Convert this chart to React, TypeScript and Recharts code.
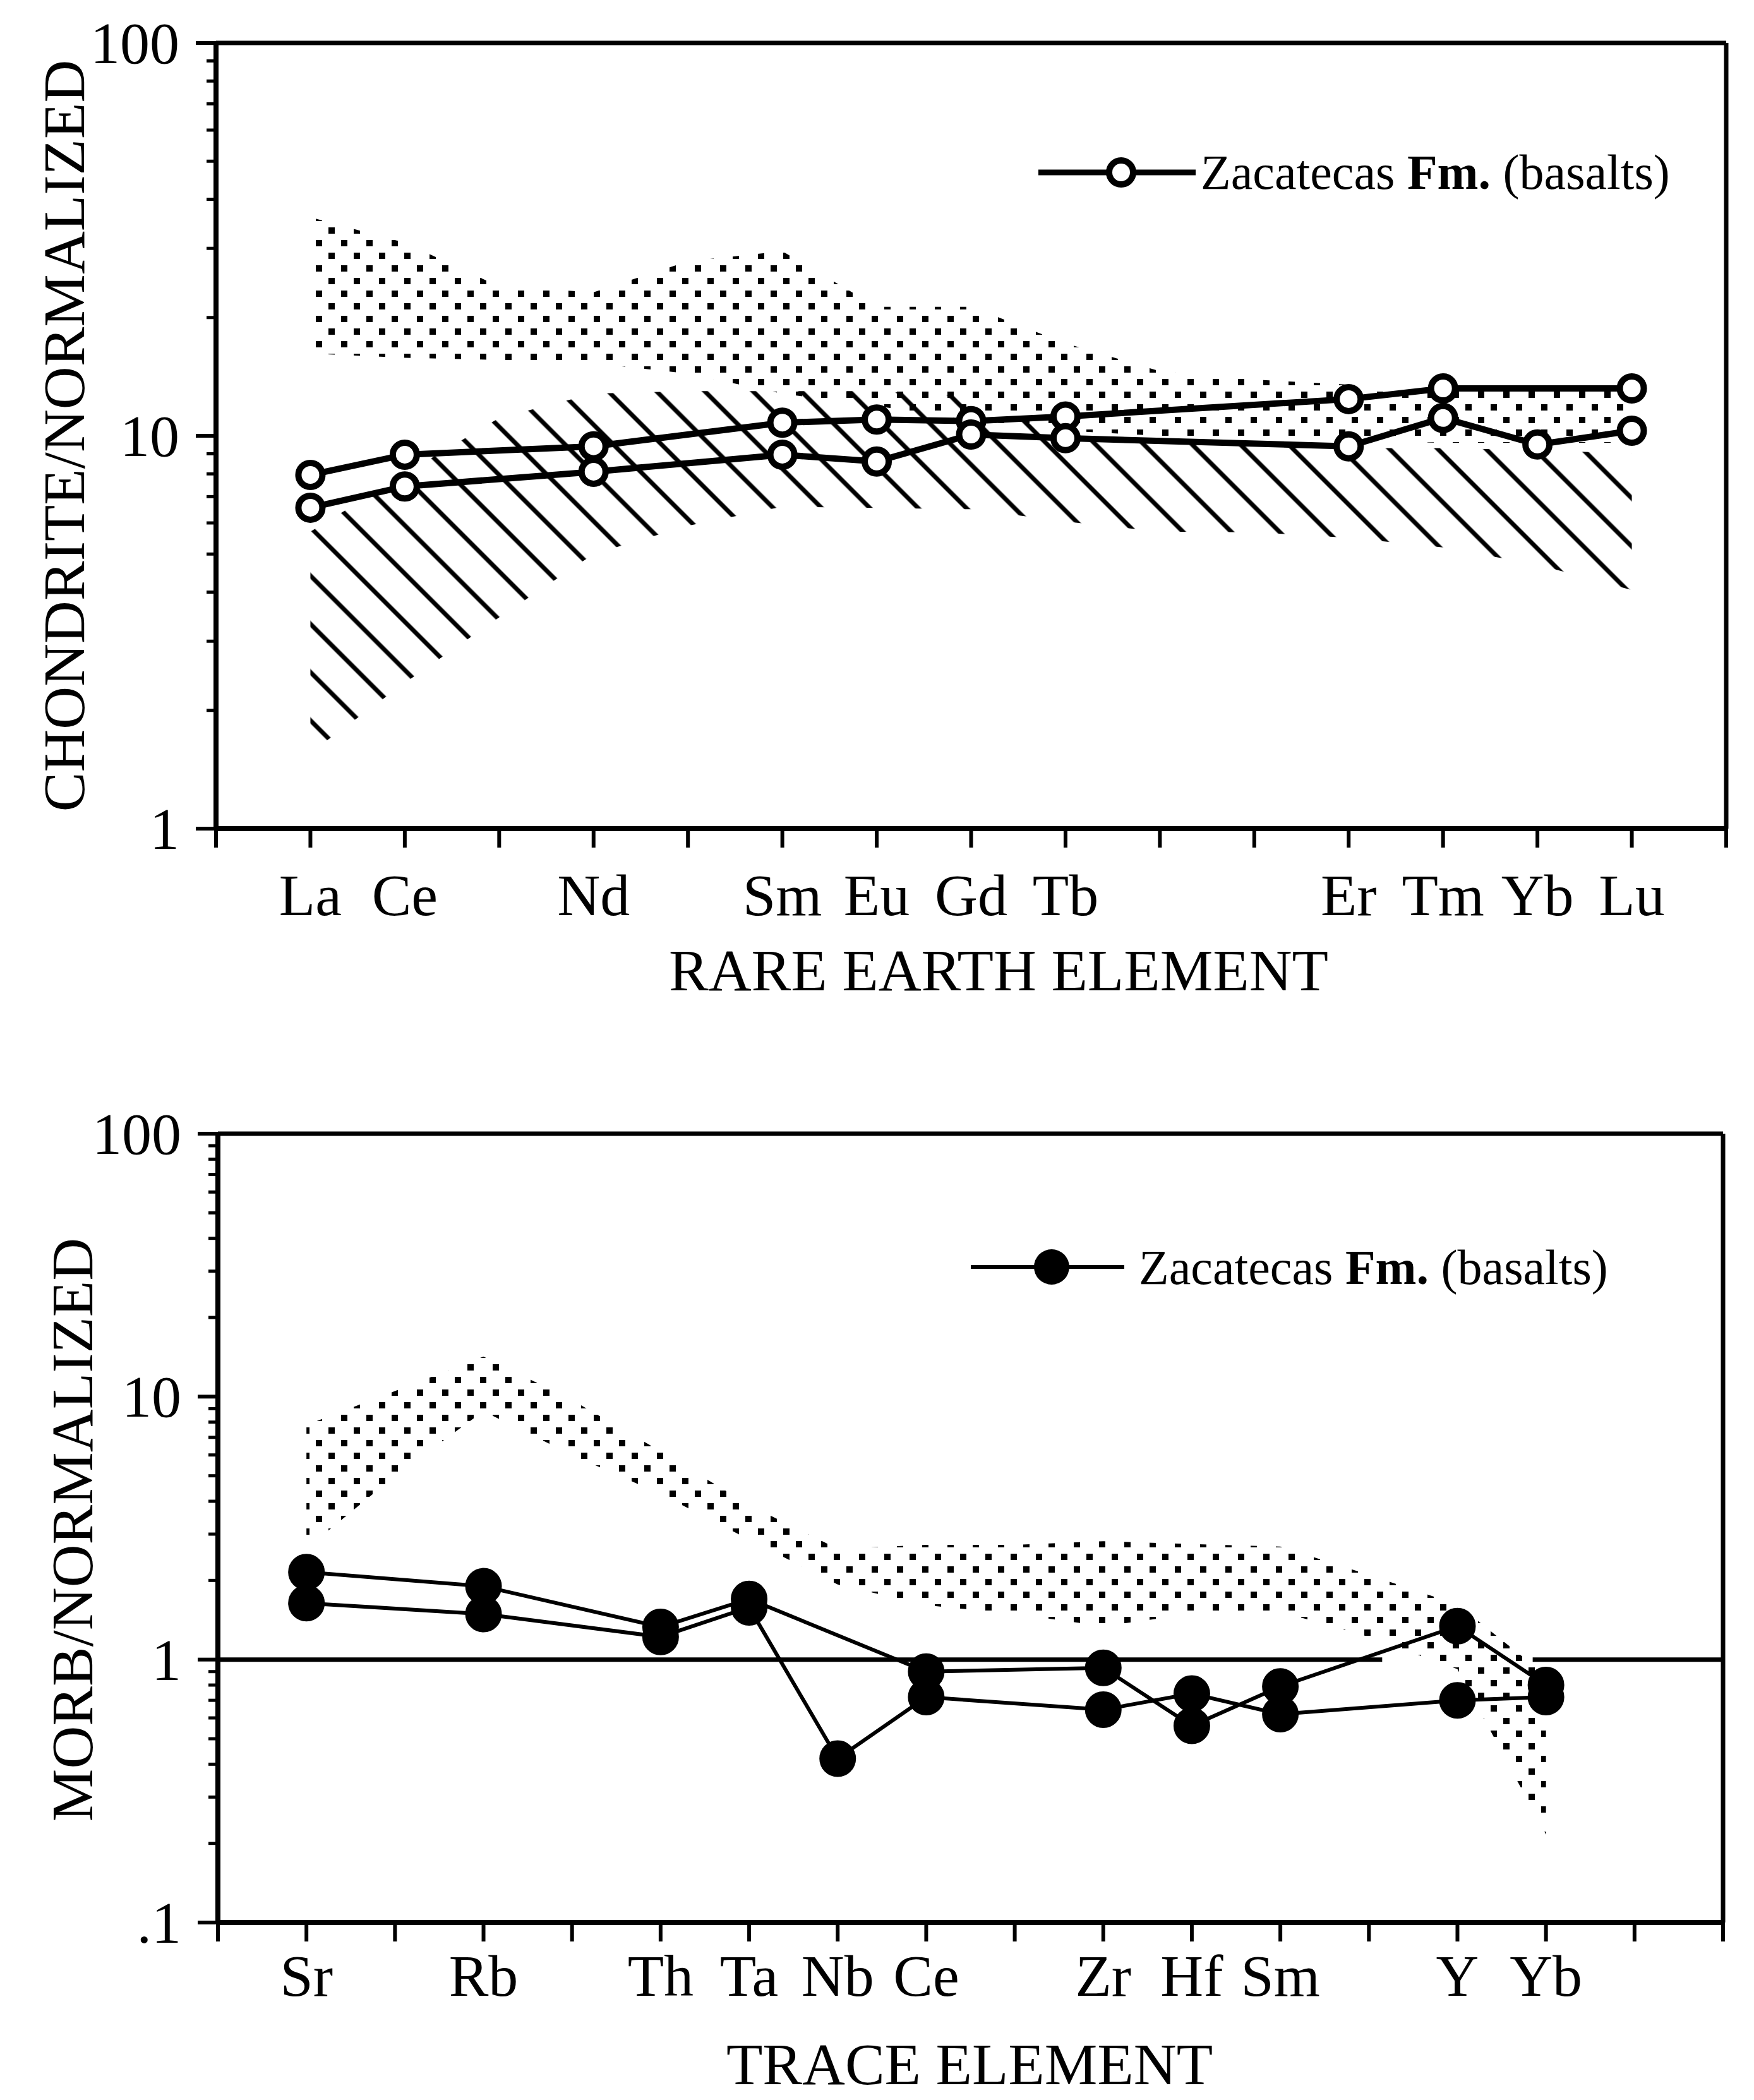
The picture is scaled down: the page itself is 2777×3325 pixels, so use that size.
import React from "react";
import {
  ComposedChart,
  Line,
  Area,
  XAxis,
  YAxis,
  ReferenceLine,
} from "recharts";

const FONT = "'Liberation Serif', 'Times New Roman', serif";

// chondrite-normalized REE plot
const reeElements = ["La", "Ce", "Pr", "Nd", "Pm", "Sm", "Eu", "Gd", "Tb", "Dy", "Ho", "Er", "Tm", "Yb", "Lu"];
const reeLabels = ["La", "Ce", "", "Nd", "", "Sm", "Eu", "Gd", "Tb", "", "", "Er", "Tm", "Yb", "Lu"];
const reeSampleA = [7.95, 8.95, null, 9.4, null, 10.8, 11.0, 10.9, 11.2, null, null, 12.4, 13.2, null, 13.2];
const reeSampleB = [6.56, 7.43, null, 8.1, null, 8.95, 8.6, 10.07, 9.86, null, null, 9.4, 11.1, 9.5, 10.3];
const reeDotHigh = [36, 31, 24, 23.2, 27.8, 29.5, 21.3, 21.3, 17.2, 14.6, 13.9, 13.5, 13.2, 13.1, 13.1];
const reeDotLow = [16.2, 15.8, 15.6, 15.3, 14.4, 12.8, 11.9, 11.0, 10.3, 10.0, 9.8, 9.7, 9.6, 9.6, 9.6];
const reeHatchHigh = [5.7, 8.0, 11.1, 12.8, 13.0, 13.0, 13.0, 12.6, 9.8, 9.6, 9.5, 9.3, 9.3, 9.2, 9.0];
const reeHatchLow = [1.56, 2.35, 3.45, 5.0, 5.9, 6.6, 6.55, 6.5, 6.05, 5.7, 5.68, 5.5, 5.2, 4.7, 4.05];
const reeXTicks = [0, 1, 2, 3, 4, 5, 6, 7, 8, 9, 10, 11, 12, 13, 14, 15, 16];
const reeYTicks = [1, 2, 3, 4, 5, 6, 7, 8, 9, 10, 20, 30, 40, 50, 60, 70, 80, 90, 100];

// MORB-normalized trace element plot
const traceElements = ["Sr", "K", "Rb", "Ba", "Th", "Ta", "Nb", "Ce", "P", "Zr", "Hf", "Sm", "Ti", "Y", "Yb"];
const traceLabels = ["Sr", "", "Rb", "", "Th", "Ta", "Nb", "Ce", "", "Zr", "Hf", "Sm", "", "Y", "Yb"];
const traceSampleA = [2.15, null, 1.9, null, 1.33, 1.7, null, 0.9, null, 0.93, 0.56, 0.79, null, 1.34, 0.8];
const traceSampleB = [1.64, null, 1.49, null, 1.22, 1.58, 0.42, 0.72, null, 0.645, 0.742, 0.62, null, 0.7, 0.72];
const traceDotHigh = [7.8, 10.5, 14.2, 9.7, 6.2, 3.87, 2.64, 2.73, 2.73, 2.82, 2.75, 2.69, 2.1, 1.62, 0.87];
const traceDotLow = [2.64, 5.0, 8.8, 6.0, 4.26, 2.86, 1.93, 1.61, 1.49, 1.34, 1.49, 1.52, 1.22, 0.92, 0.216];
const traceXTicks = [0, 1, 2, 3, 4, 5, 6, 7, 8, 9, 10, 11, 12, 13, 14, 15, 16, 17];
const traceYTicks = [
  0.1, 0.2, 0.3, 0.4, 0.5, 0.6, 0.7, 0.8, 0.9,
  1, 2, 3, 4, 5, 6, 7, 8, 9,
  10, 20, 30, 40, 50, 60, 70, 80, 90, 100,
];

const reeData = reeElements.map((el, i) => ({
  x: i + 1,
  el,
  a: reeSampleA[i],
  b: reeSampleB[i],
  dots: [reeDotLow[i], reeDotHigh[i]],
  hatch: [reeHatchLow[i], reeHatchHigh[i]],
}));

const traceData = traceElements.map((el, i) => ({
  x: i + 1,
  el,
  a: traceSampleA[i],
  b: traceSampleB[i],
  dots: [traceDotLow[i], traceDotHigh[i]],
}));

const isDecade = (v: number) =>
  Math.abs(Math.log10(v) - Math.round(Math.log10(v))) < 1e-6;
const decadeLabel = (v: number) => (v < 1 ? String(v).replace(/^0/, "") : String(v));

const YTick = (props: any) => {
  const { x, y, payload } = props;
  const v = payload.value;
  const major = isDecade(v);
  return (
    <g>
      <line x1={x - (major ? 32 : 15)} x2={x} y1={y} y2={y} stroke="#000" strokeWidth={major ? 6 : 5} />
      {major && (
        <text x={x - 58} y={y} dy={32} textAnchor="end" fontFamily={FONT} fontSize={94} fill="#000">
          {decadeLabel(v)}
        </text>
      )}
    </g>
  );
};

const makeXTick = (labels: string[], labelDy: number) => (props: any) => {
  const { x, y, payload } = props;
  const label = labels[payload.value - 1] || "";
  return (
    <g>
      <line x1={x} x2={x} y1={y} y2={y + 30} stroke="#000" strokeWidth={6} />
      {label && (
        <text x={x} y={y + labelDy} textAnchor="middle" fontFamily={FONT} fontSize={94} fill="#000">
          {label}
        </text>
      )}
    </g>
  );
};

const axisStyle = { stroke: "#000", strokeWidth: 8 };

const DotPattern = ({ id }: { id: string }) => (
  <pattern id={id} width="40" height="40" patternUnits="userSpaceOnUse">
    <rect x="0" y="0" width="10" height="10" fill="#000" />
    <rect x="20" y="20" width="10" height="10" fill="#000" />
  </pattern>
);

const ReeChart = () => (
  <ComposedChart
    width={2777}
    height={1700}
    data={reeData}
    margin={{ top: 68, right: 44, bottom: 387, left: 341 }}
  >
    <defs>
      <DotPattern id="dotsRee" />
      <pattern id="hatchRee" width="54" height="54" patternUnits="userSpaceOnUse" patternTransform="rotate(-45)">
        <line x1="27" y1="0" x2="27" y2="54" stroke="#000" strokeWidth="7" />
      </pattern>
    </defs>
    <XAxis
      type="number"
      dataKey="x"
      domain={[0, 16]}
      ticks={reeXTicks}
      interval={0}
      allowDataOverflow
      height={1}
      tickSize={0}
      tickMargin={0}
      tickLine={false}
      axisLine={axisStyle}
      tick={makeXTick(reeLabels, 137)}
    />
    <YAxis
      type="number"
      scale="log"
      domain={[1, 100]}
      ticks={reeYTicks}
      interval={0}
      allowDataOverflow
      width={1}
      tickSize={0}
      tickMargin={0}
      tickLine={false}
      axisLine={axisStyle}
      tick={<YTick />}
    />
    <ReferenceLine y={100} stroke="#000" strokeWidth={7} />
    <ReferenceLine x={16} stroke="#000" strokeWidth={7} />
    <Area
      type="linear"
      dataKey="dots"
      stroke="none"
      fill="url(#dotsRee)"
      fillOpacity={1}
      isAnimationActive={false}
    />
    <Area
      type="linear"
      dataKey="hatch"
      stroke="none"
      fill="url(#hatchRee)"
      fillOpacity={1}
      isAnimationActive={false}
    />
    <Line
      type="linear"
      dataKey="a"
      name="Zacatecas Fm. (basalts)"
      stroke="#000"
      strokeWidth={10}
      connectNulls
      dot={{ r: 19, fill: "#fff", stroke: "#000", strokeWidth: 10 }}
      isAnimationActive={false}
    />
    <Line
      type="linear"
      dataKey="b"
      name="Zacatecas Fm. (basalts)"
      stroke="#000"
      strokeWidth={10}
      connectNulls
      dot={{ r: 19, fill: "#fff", stroke: "#000", strokeWidth: 10 }}
      isAnimationActive={false}
    />
    <g>
      <line x1={1644} x2={1893} y1={273} y2={273} stroke="#000" strokeWidth={9} />
      <circle cx={1775} cy={273} r={19} fill="#fff" stroke="#000" strokeWidth={10} />
      <text x={1901} y={299} fontFamily={FONT} fontSize={78} fill="#000">
        Zacatecas <tspan fontWeight="bold">Fm.</tspan> (basalts)
      </text>
    </g>
    <text
      transform="translate(133,690) rotate(-90)"
      textAnchor="middle"
      fontFamily={FONT}
      fontSize={94}
      fill="#000"
    >
      CHONDRITE/NORMALIZED
    </text>
    <text x={1581} y={1568} textAnchor="middle" fontFamily={FONT} fontSize={94} fill="#000">
      RARE EARTH ELEMENT
    </text>
  </ComposedChart>
);

const TraceChart = () => (
  <ComposedChart
    width={2777}
    height={1625}
    data={traceData}
    margin={{ top: 95, right: 49, bottom: 280, left: 344 }}
  >
    <defs>
      <DotPattern id="dotsTrace" />
    </defs>
    <XAxis
      type="number"
      dataKey="x"
      domain={[0, 17]}
      ticks={traceXTicks}
      interval={0}
      allowDataOverflow
      height={1}
      tickSize={0}
      tickMargin={0}
      tickLine={false}
      axisLine={axisStyle}
      tick={makeXTick(traceLabels, 116)}
    />
    <YAxis
      type="number"
      scale="log"
      domain={[0.1, 100]}
      ticks={traceYTicks}
      interval={0}
      allowDataOverflow
      width={1}
      tickSize={0}
      tickMargin={0}
      tickLine={false}
      axisLine={axisStyle}
      tick={<YTick />}
    />
    <ReferenceLine y={100} stroke="#000" strokeWidth={7} />
    <ReferenceLine x={17} stroke="#000" strokeWidth={7} />
    <ReferenceLine segment={[{ x: 0, y: 1 }, { x: 13.15, y: 1 }]} stroke="#000" strokeWidth={7} />
    <ReferenceLine segment={[{ x: 14.85, y: 1 }, { x: 17, y: 1 }]} stroke="#000" strokeWidth={7} />
    <Area
      type="linear"
      dataKey="dots"
      stroke="none"
      fill="url(#dotsTrace)"
      fillOpacity={1}
      isAnimationActive={false}
    />
    <Line
      type="linear"
      dataKey="a"
      name="Zacatecas Fm. (basalts)"
      stroke="#000"
      strokeWidth={6}
      connectNulls
      dot={{ r: 28, fill: "#000", stroke: "#000", strokeWidth: 2 }}
      isAnimationActive={false}
    />
    <Line
      type="linear"
      dataKey="b"
      name="Zacatecas Fm. (basalts)"
      stroke="#000"
      strokeWidth={6}
      connectNulls
      dot={{ r: 28, fill: "#000", stroke: "#000", strokeWidth: 2 }}
      isAnimationActive={false}
    />
    <g>
      <line x1={1537} x2={1780} y1={306} y2={306} stroke="#000" strokeWidth={6} />
      <circle cx={1665} cy={306} r={28} fill="#000" />
      <text x={1803} y={333} fontFamily={FONT} fontSize={78} fill="#000">
        Zacatecas <tspan fontWeight="bold">Fm.</tspan> (basalts)
      </text>
    </g>
    <text
      transform="translate(146,722) rotate(-90)"
      textAnchor="middle"
      fontFamily={FONT}
      fontSize={94}
      fill="#000"
    >
      MORB/NORMALIZED
    </text>
    <text x={1535} y={1600} textAnchor="middle" fontFamily={FONT} fontSize={94} fill="#000">
      TRACE ELEMENT
    </text>
  </ComposedChart>
);

export default function App() {
  return (
    <div style={{ position: "absolute", left: 0, top: 0, width: 2777, height: 3325, background: "#fff" }}>
      <div style={{ position: "absolute", left: 0, top: 0 }}>
        <ReeChart />
      </div>
      <div style={{ position: "absolute", left: 0, top: 1700 }}>
        <TraceChart />
      </div>
    </div>
  );
}
